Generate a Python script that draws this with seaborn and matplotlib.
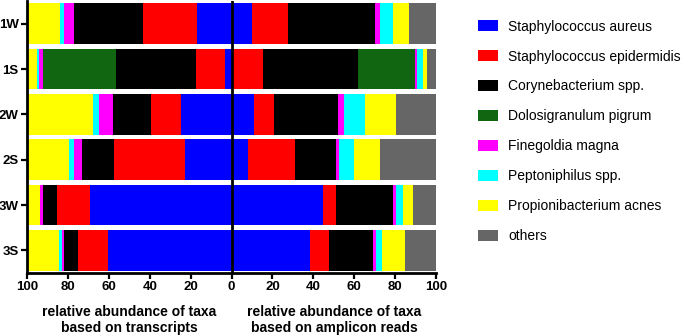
import matplotlib
matplotlib.use("Agg")
import matplotlib.pyplot as plt
import numpy as np
import pandas as pd
import seaborn as sns
from matplotlib.patches import Patch

sns.set_style("ticks")
plt.rcParams['font.family'] = ['Liberation Sans', 'DejaVu Sans']
plt.rcParams['text.color'] = 'black'
plt.rcParams['xtick.color'] = 'black'
plt.rcParams['ytick.color'] = 'black'
plt.rcParams['axes.edgecolor'] = 'black'

samples = ["1W", "1S", "2W", "2S", "3W", "3S"]
taxa = ["Staphylococcus aureus", "Staphylococcus epidermidis", "Corynebacterium spp.",
        "Dolosigranulum pigrum", "Finegoldia magna", "Peptoniphilus spp.",
        "Propionibacterium acnes", "others"]
colors = ["#0000FF", "#FF0000", "#000000", "#116611", "#FF00FF", "#00FFFF", "#FFFF00", "#666666"]

# transcripts (left side), per taxon across samples
tr_aureus      = [17.0,  3.0, 24.5, 22.6, 69.3, 60.6]
tr_epidermidis = [26.4, 14.2, 14.7, 35.0, 15.9, 14.7]
tr_coryne      = [33.6, 39.4, 18.7, 15.4,  7.1,  6.5]
tr_dolosi      = [ 0.0, 35.4,  0.0,  0.0,  0.0,  0.0]
tr_finegoldia  = [ 4.8,  2.0,  6.8,  4.0,  1.2,  1.3]
tr_peptoni     = [ 2.1,  1.3,  3.0,  2.5,  0.3,  1.1]
tr_propioni    = [16.1,  4.7, 32.3, 20.5,  6.2, 15.8]
tr_others      = [ 0.0,  0.0,  0.0,  0.0,  0.0,  0.0]

# amplicon reads (right side)
am_aureus      = [ 9.9,  0.5, 10.9,  8.0, 44.5, 38.5]
am_epidermidis = [17.6, 14.8,  9.8, 23.0,  6.4,  9.0]
am_coryne      = [42.6, 46.7, 31.5, 19.9, 28.3, 21.8]
am_dolosi      = [ 0.0, 27.8,  0.0,  0.0,  0.0,  0.0]
am_finegoldia  = [ 2.3,  1.1,  2.9,  1.8,  1.3,  1.3]
am_peptoni     = [ 6.8,  2.8, 10.1,  7.0,  3.5,  3.2]
am_propioni    = [ 7.5,  1.8, 15.3, 12.7,  4.9, 10.9]
am_others      = [13.3,  4.5, 19.5, 27.6, 11.1, 15.3]

tr = np.array([tr_aureus, tr_epidermidis, tr_coryne, tr_dolosi, tr_finegoldia,
               tr_peptoni, tr_propioni, tr_others])
am = np.array([am_aureus, am_epidermidis, am_coryne, am_dolosi, am_finegoldia,
               am_peptoni, am_propioni, am_others])

fig = plt.figure(figsize=(6.85, 3.35), dpi=100)
ax = fig.add_axes([27/685, 1 - 273/335, (436 - 27)/685, 272/335])

for data, sign in ((tr, -1), (am, 1)):
    cum = np.cumsum(data, axis=0)
    for i in range(len(taxa) - 1, -1, -1):
        df = pd.DataFrame({"sample": samples, "val": sign * cum[i]})
        sns.barplot(data=df, x="val", y="sample", order=samples, orient="h",
                    color=colors[i], saturation=1, width=0.89, linewidth=0,
                    errorbar=None, ax=ax)

ax.set_xlim(-100, 100)
ax.set_ylim(5.5, -0.5)
ticks = [-100, -80, -60, -40, -20, 0, 20, 40, 60, 80, 100]
ax.set_xticks(ticks)
ax.set_xticklabels([str(abs(t)) for t in ticks], fontsize=9.5, fontweight="bold")
ax.set_yticks(range(len(samples)))
ax.set_yticklabels(samples, fontsize=9.5, fontweight="bold")
ax.axvline(0, color="black", lw=2, zorder=10)
sns.despine(ax=ax, top=True, right=True)
for s in ("left", "bottom"):
    ax.spines[s].set_linewidth(2)
ax.tick_params(axis="both", width=1.6, length=4, pad=2)
ax.set_xlabel("")
ax.set_ylabel("")

fig.text(129.5/685, 1 - 320/335, "relative abundance of taxa\nbased on transcripts",
         ha="center", va="center", fontsize=10, fontweight="bold", linespacing=1.1)
fig.text(334/685, 1 - 320/335, "relative abundance of taxa\nbased on amplicon reads",
         ha="center", va="center", fontsize=10, fontweight="bold", linespacing=1.1)

handles = [Patch(facecolor=c, edgecolor="none") for c in colors]
fig.legend(handles, taxa, loc="upper left", bbox_to_anchor=(472/685, 1 - 14/335),
           frameon=False, fontsize=10, handlelength=1.45, handleheight=0.85,
           handletextpad=0.75, labelspacing=1.15, borderaxespad=0)

fig.savefig("out.png", dpi=100)
